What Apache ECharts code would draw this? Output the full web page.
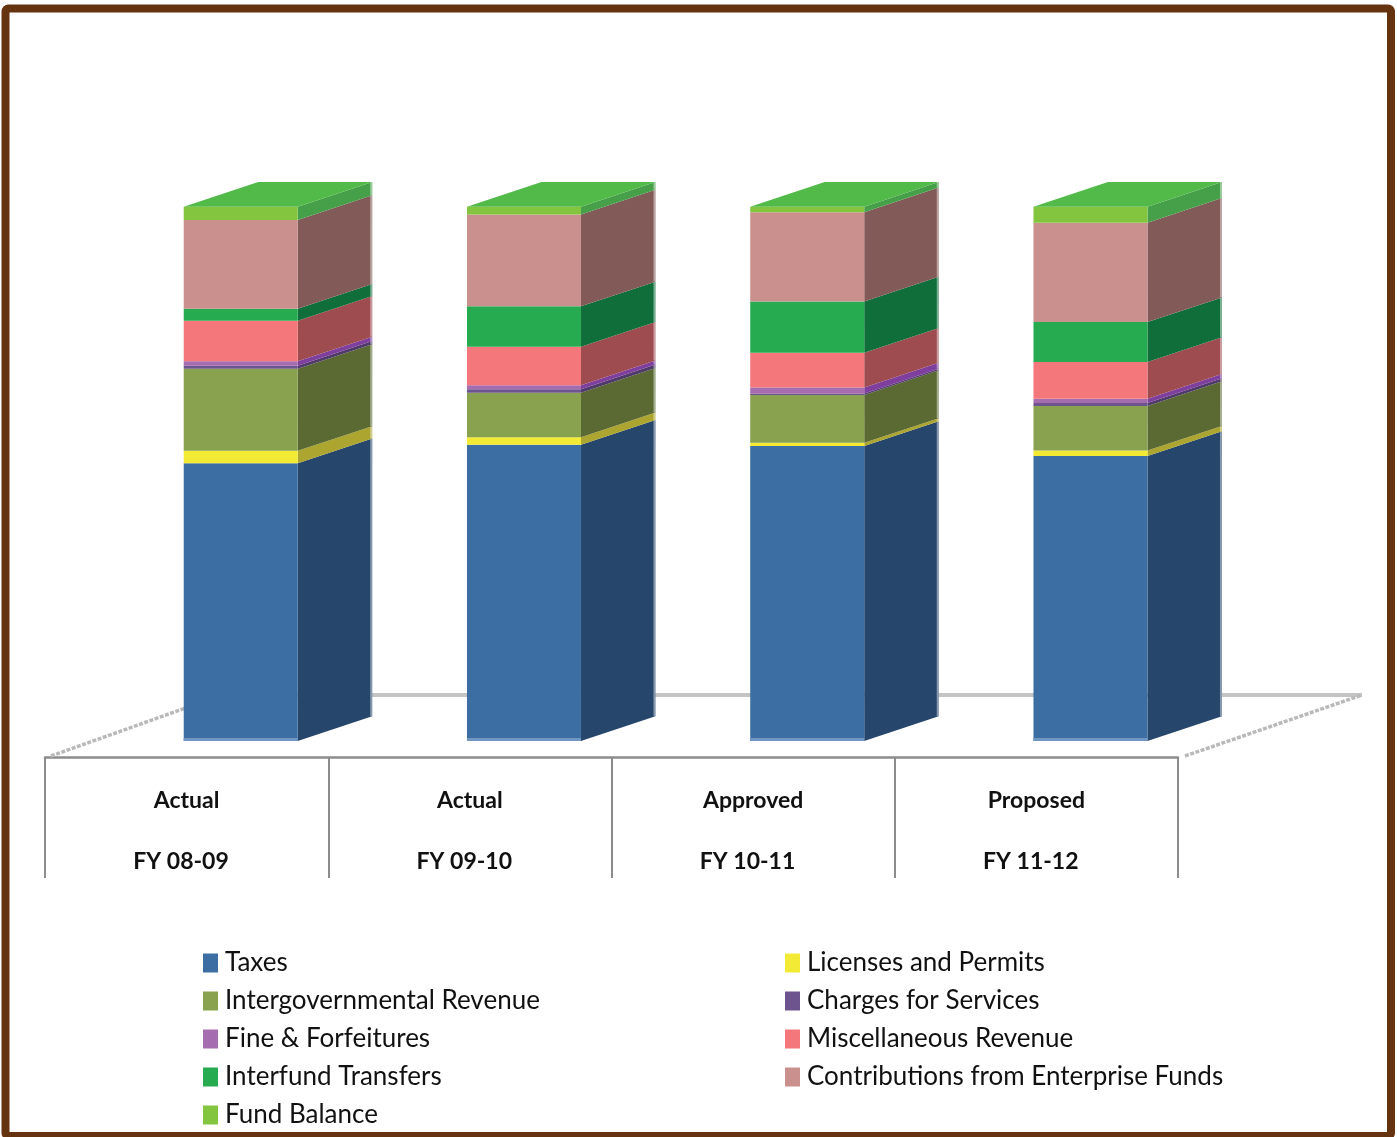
<!DOCTYPE html>
<html>
<head>
<meta charset="utf-8">
<title>Revenue by Source</title>
<style>
  html, body { margin: 0; padding: 0; background: #ffffff; overflow: hidden; }
  #chart { width: 1397px; height: 1137px; }
</style>
<script src="https://cdn.jsdelivr.net/npm/echarts@6/dist/echarts.min.js"></script>
</head>
<body>
<div id="chart"></div>
<script>
// Fiscal years on the category axis
const categories = ['Actual\n\nFY 08-09  ', 'Actual\n\nFY 09-10  ', 'Approved\n\nFY 10-11  ', 'Proposed\n\nFY 11-12  '];

// Share of revenue per source, percent of each year's total
const taxes = [52.0, 55.45, 55.2, 53.35];
const licenses = [2.3, 1.4, 0.6, 1.0];
const intergovernmental = [15.35, 8.35, 8.95, 8.35];
const charges = [0.6, 0.65, 0.3, 0.55];
const fines = [0.8, 0.75, 1.1, 0.8];
const miscellaneous = [7.6, 7.2, 6.5, 6.9];
const interfund = [2.25, 7.55, 9.6, 7.45];
const contributions = [16.6, 17.2, 16.7, 18.6];
const fundBalance = [2.5, 1.45, 1.05, 3.0];

const sources = [
  { name: 'Taxes', values: taxes, front: '#3c6ea3', side: '#27466b' },
  { name: 'Licenses and Permits', values: licenses, front: '#f2ea35', side: '#aca630' },
  { name: 'Intergovernmental Revenue', values: intergovernmental, front: '#88a24f', side: '#5a6a32' },
  { name: 'Charges for Services', values: charges, front: '#6e548e', side: '#4f3a6a' },
  { name: 'Fine & Forfeitures', values: fines, front: '#a56cb0', side: '#7e3f9e' },
  { name: 'Miscellaneous Revenue', values: miscellaneous, front: '#f3777b', side: '#9e4c50' },
  { name: 'Interfund Transfers', values: interfund, front: '#27ab50', side: '#0f6e3a' },
  { name: 'Contributions from Enterprise Funds', values: contributions, front: '#ca908e', side: '#825a58' },
  { name: 'Fund Balance', values: fundBalance, front: '#84c540', side: '#46a04a' }
];
const capColor = '#52ba48';
const legendLeft = ['Taxes', 'Intergovernmental Revenue', 'Fine & Forfeitures', 'Interfund Transfers', 'Fund Balance'];
const legendRight = ['Licenses and Permits', 'Charges for Services', 'Miscellaneous Revenue', 'Contributions from Enterprise Funds'];

// Oblique projection of the columns and the floor
const depthX = 74.5, depthY = 24.7;
const barShift = 54.1, barWidth = 114;
const floorX = 177, floorY = 62;

const fontFamily = 'Lato, "Liberation Sans", sans-serif';

function segmentRenderer(source, isFirst, isLast) {
  return function (params, api) {
    const i = api.value(0);
    const low = api.coord([i, api.value(1)]);
    const high = api.coord([i, api.value(2)]);
    const x0 = low[0] + barShift - barWidth / 2;
    const x1 = x0 + barWidth;
    const children = [
      {
        type: 'polygon',
        shape: { points: [[x1, low[1]], [x1 + depthX, low[1] - depthY], [x1 + depthX, high[1] - depthY], [x1, high[1]]] },
        style: { fill: source.side }
      },
      {
        type: 'rect',
        shape: { x: x0, y: high[1], width: barWidth, height: low[1] - high[1] },
        style: { fill: source.front }
      },
      // soft highlight along the far edge of the side face
      {
        type: 'rect',
        shape: { x: x1 + depthX - 2, y: high[1] - depthY, width: 2, height: low[1] - high[1] },
        style: { fill: '#ffffff', opacity: 0.45 }
      }
    ];
    if (isFirst) {
      children.push({
        type: 'rect',
        shape: { x: x0, y: low[1] - 3, width: barWidth, height: 3 },
        style: { fill: '#6f97c2' }
      });
    }
    if (isLast) {
      children.push({
        type: 'polygon',
        shape: { points: [[x0, high[1]], [x1, high[1]], [x1 + depthX, high[1] - depthY], [x0 + depthX, high[1] - depthY]] },
        style: { fill: capColor }
      });
    }
    return { type: 'group', children: children };
  };
}

// Cumulative stacking: each item carries the category index and its lower and upper bound
const totals = categories.map(() => 0);
const barSeries = sources.map((source, s) => ({
  type: 'custom',
  name: source.name,
  coordinateSystem: 'cartesian2d',
  color: source.front,
  itemStyle: { color: source.front },
  z: 5,
  clip: false,
  encode: { x: 0, y: [1, 2] },
  renderItem: segmentRenderer(source, s === 0, s === sources.length - 1),
  data: source.values.map((v, i) => {
    const base = totals[i];
    totals[i] += v;
    return [i, base, totals[i]];
  })
}));

// Floor outline behind the columns
const floorSeries = {
  type: 'custom',
  name: 'floor',
  coordinateSystem: 'cartesian2d',
  z: 1,
  silent: true,
  clip: false,
  data: [[0, 0, 0]],
  encode: { x: 0, y: 1 },
  renderItem: function (params) {
    const c = params.coordSys;
    const yb = c.y + c.height;
    const xr = c.x + c.width;
    const hatch = { stroke: '#b9b9b9', lineWidth: 3.5, lineDash: [4, 1.5], fill: null };
    return {
      type: 'group',
      children: [
        { type: 'line', shape: { x1: c.x + floorX, y1: yb - floorY, x2: xr + floorX + 7, y2: yb - floorY }, style: { stroke: '#c4c4c4', lineWidth: 4 } },
        { type: 'line', shape: { x1: c.x + 6, y1: yb - 1, x2: c.x + floorX, y2: yb - floorY }, style: hatch },
        { type: 'line', shape: { x1: xr + 7, y1: yb - 1, x2: xr + floorX + 7, y2: yb - floorY }, style: hatch }
      ]
    };
  }
};

const legendBase = {
  orient: 'vertical',
  icon: 'rect',
  itemWidth: 15,
  itemHeight: 19,
  itemGap: 8,
  selectedMode: false,
  textStyle: { fontFamily: fontFamily, fontSize: 26, color: '#111111', padding: [0, 0, 0, 2], lineHeight: 30 }
};

const chart = echarts.init(document.getElementById('chart'), null, { renderer: 'canvas' });
chart.setOption({
  animation: false,
  backgroundColor: '#ffffff',
  grid: { left: 45, top: 206.7, width: 1133, height: 550.3 },
  xAxis: {
    type: 'category',
    data: categories,
    boundaryGap: true,
    axisLine: { show: true, onZero: false, lineStyle: { color: '#8c8c8c', width: 2.5 } },
    axisTick: { show: true, length: 121, lineStyle: { color: '#8c8c8c', width: 2 } },
    axisLabel: {
      interval: 0,
      margin: 28.5,
      fontFamily: fontFamily,
      fontWeight: 'bold',
      fontSize: 23,
      lineHeight: 30.5,
      color: '#111111'
    }
  },
  yAxis: { type: 'value', min: -3, max: 100, show: false },
  legend: [
    Object.assign({}, legendBase, { left: 198, top: 943, data: legendLeft }),
    Object.assign({}, legendBase, { left: 780, top: 943, data: legendRight })
  ],
  graphic: [{
    type: 'rect',
    silent: true,
    z: 100,
    shape: { x: 5.5, y: 8.5, width: 1385.5, height: 1127.5, r: 3 },
    style: { fill: null, stroke: '#663311', lineWidth: 8 }
  }],
  series: [floorSeries].concat(barSeries)
});
</script>
</body>
</html>
